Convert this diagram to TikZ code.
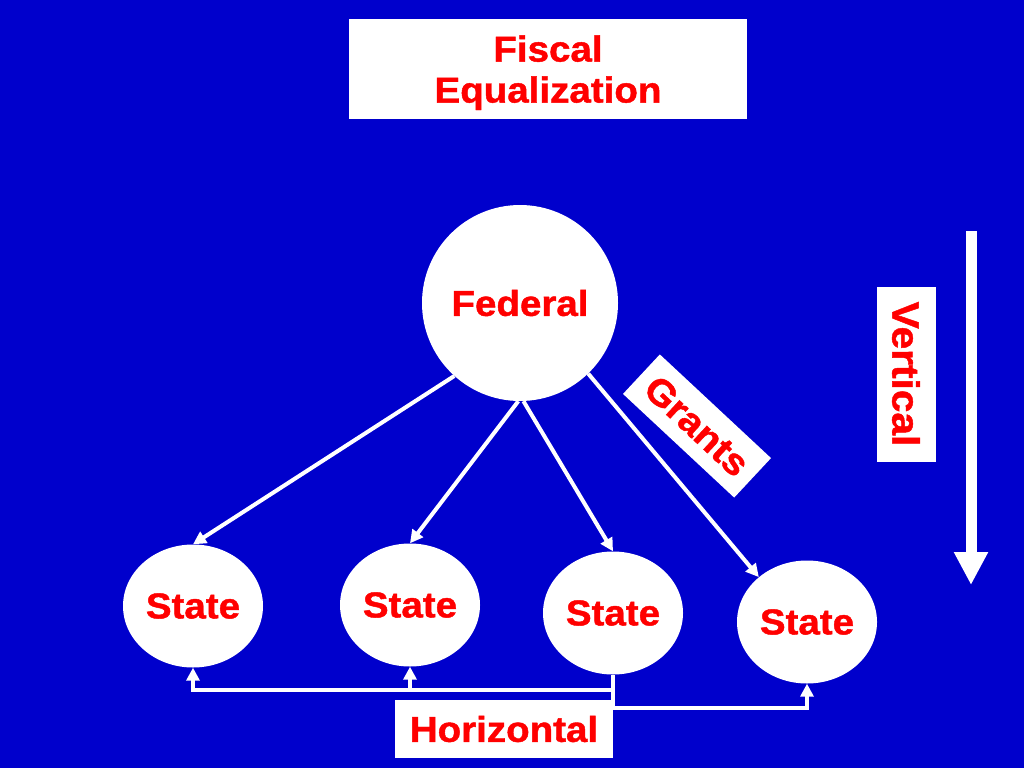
\documentclass[tikz,border=0pt]{standalone}
\usepackage{fontspec}
\setmainfont{Liberation Sans}[FakeStretch=1.07, BoldFeatures={FakeBold=1.2}]
\usetikzlibrary{shapes.geometric,arrows.meta}
\definecolor{bgblue}{RGB}{0,0,204}
\definecolor{lblred}{RGB}{255,0,0}
\begin{document}
\begin{tikzpicture}[x=1pt, y=-1pt, >={Triangle[width=13pt,length=13pt]},
    every node/.style={font=\bfseries\fontsize{36}{41}\selectfont, text=lblred},
    whitebox/.style={fill=white, inner sep=0pt},
    state/.style={ellipse, fill=white, minimum width=140pt, minimum height=123pt, inner sep=0pt},
    link/.style={->, white, line width=4pt},
    bigarrow/.style={-{Triangle[width=32pt,length=33pt]}, white, line width=11pt}]
  \useasboundingbox (0,0) rectangle (1024,768);
  \fill[bgblue] (0,0) rectangle (1024,768);
  % title
  \node[whitebox, minimum width=398pt, minimum height=100pt, align=center, text depth=0pt] (title) at (548,69) {Fiscal\\Equalization};
  % federal and states
  \node[circle, fill=white, minimum size=196pt, inner sep=0pt] (fed) at (520,303) {Federal};
  \node[state] (s1) at (193,606) {State};
  \node[state] (s2) at (410,605) {State};
  \node[state] (s3) at (613,613) {State};
  \node[state] (s4) at (807,622) {State};
  \draw[link] (fed.-132) -- (s1.north);
  \draw[link] (fed.-91) -- (s2.north);
  \draw[link] (fed.-88) -- (s3.north);
  \draw[link] (fed.-46) -- (s4.137);
  % labels
  \node[whitebox, rotate=-43, minimum width=152pt, minimum height=54pt, font=\bfseries\fontsize{37}{41}\selectfont] (grants) at (697,426) {Grants};
  \node[whitebox, rotate=-90, minimum width=175pt, minimum height=59pt, font=\bfseries\fontsize{38}{41}\selectfont] (vert) at (906,374) {Vertical};
  \node[whitebox, minimum width=218pt, minimum height=58pt] (horiz) at (504,729) {Horizontal};
  \coordinate (vtop) at (971,231);
  \coordinate (vbot) at (971,585);
  \draw[bigarrow] (vtop) -- (vbot);
  % horizontal transfers
  \coordinate (highrail) at (400,690);
  \coordinate (lowrail) at (700,708);
  \draw[link] (s3.south) |- (lowrail) -| (s4.south);
  \draw[link] (s3.south |- highrail) -| (s2.south);
  \draw[link] (s2.south |- highrail) -| (s1.south);
\end{tikzpicture}
\end{document}
